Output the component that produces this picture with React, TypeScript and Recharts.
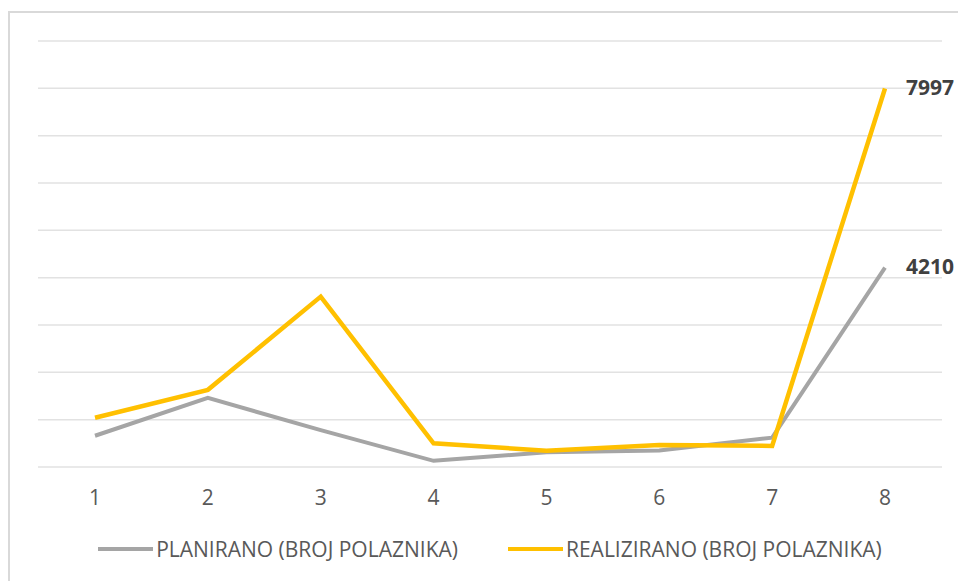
import { CartesianGrid, Legend, LabelList, Line, LineChart, XAxis, YAxis } from "recharts";

const categories = ["1", "2", "3", "4", "5", "6", "7", "8"];
const planned = [660, 1460, 780, 130, 310, 350, 620, 4210];
const realized = [1040, 1630, 3600, 500, 345, 465, 445, 7997];
const yTicks = [0, 1000, 2000, 3000, 4000, 5000, 6000, 7000, 8000, 9000];

const GRAY = "#a5a5a5";
const GOLD = "#ffc000";
const FONT = "'Liberation Sans Narrow', 'Open Sans', sans-serif";

const data = categories.map((c, i) => ({ cat: c, planned: planned[i], realized: realized[i] }));

// only the last point gets a value label, to the right of it
function EndLabel(props: unknown) {
  const { x, y, value, index } = props as { x: number; y: number; value: number; index: number };
  if (index !== categories.length - 1) return null;
  return (
    <text x={x + 21} y={y + 1} fill="#404040" fontSize={21} fontWeight="bold" fontFamily="'Open Sans', sans-serif" dominantBaseline="middle">
      {value}
    </text>
  );
}

function LegendContent() {
  const items = [
    { name: "PLANIRANO (BROJ POLAZNIKA)", color: GRAY },
    { name: "REALIZIRANO (BROJ POLAZNIKA)", color: GOLD },
  ];
  return (
    <div style={{ display: "flex", justifyContent: "center", gap: 50, paddingTop: 18, fontFamily: FONT, fontSize: 21, color: "#595959" }}>
      {items.map((it) => (
        <div key={it.name} style={{ display: "flex", alignItems: "center" }}>
          <span style={{ display: "inline-block", width: 55, height: 4, background: it.color, marginRight: 3 }} />
          <span>{it.name}</span>
        </div>
      ))}
    </div>
  );
}

export default function App() {
  return (
    <div style={{ position: "absolute", left: 0, top: 0, width: 958, height: 581, overflow: "hidden", background: "#fff" }}>
      <div style={{ position: "absolute", left: 8, top: 11, width: 980, height: 600, borderLeft: "2px solid #d9d9d9", borderTop: "2px solid #d9d9d9" }} />
      <LineChart
        width={958}
        height={581}
        data={data}
        margin={{ top: 41, right: 16, left: 38, bottom: 4 }}
        style={{ position: "absolute", left: 0, top: 0 }}
      >
        <CartesianGrid vertical={false} stroke="#e2e2e2" strokeWidth={1.5} />
        <XAxis
          dataKey="cat"
          axisLine={false}
          tickLine={false}
          tickMargin={17}
          height={50}
          padding={{ left: 57, right: 57 }}
          tick={{ fill: "#595959", fontSize: 21, fontFamily: FONT }}
        />
        <YAxis hide domain={[0, 9000]} ticks={yTicks} />
        <Legend verticalAlign="bottom" height={60} content={<LegendContent />} />
        <Line dataKey="planned" stroke={GRAY} strokeWidth={4} dot={false} isAnimationActive={false}>
          <LabelList dataKey="planned" content={<EndLabel />} />
        </Line>
        <Line dataKey="realized" stroke={GOLD} strokeWidth={4.5} dot={false} isAnimationActive={false}>
          <LabelList dataKey="realized" content={<EndLabel />} />
        </Line>
      </LineChart>
    </div>
  );
}
